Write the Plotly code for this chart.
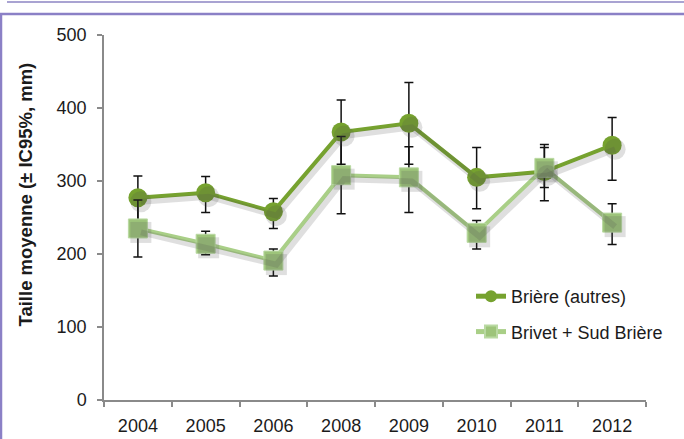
import plotly.graph_objects as go

years = ["2004", "2005", "2006", "2008", "2009", "2010", "2011", "2012"]

briere = [277, 284, 258, 367, 379, 305, 313, 349]
briere_plus = [30, 22, 18, 44, 56, 41, 33, 38]
briere_minus = [30, 27, 23, 44, 56, 43, 40, 48]

brivet = [235, 214, 191, 308, 305, 229, 318, 243]
brivet_plus = [39, 17, 16, 53, 42, 17, 32, 26]
brivet_minus = [39, 15, 21, 53, 48, 22, 27, 30]

y_ticks = [0, 100, 200, 300, 400, 500]

DARK = "#76A22F"
LIGHT = "#A9CF87"
LIGHT_MK = "#9DC47A"
FONT = "Liberation Sans"
TXT = "#1b1b1b"
AX = "#8a8a8a"

W, H = 684, 439
ML, MR, MT, MB = 104, 38, 35, 39
PW = W - ML - MR
PH = H - MT - MB

fig = go.Figure()

# soft shadows (same data, on a slightly offset hidden axis pair)
for vals, sym in [(briere, "circle"), (brivet, "square")]:
    fig.add_trace(go.Scatter(
        x=years, y=vals, mode="lines+markers", xaxis="x2", yaxis="y2",
        line=dict(color="rgba(80,80,80,0.18)", width=6),
        marker=dict(symbol=sym, size=21, color="rgba(80,80,80,0.18)"),
        showlegend=False, hoverinfo="skip"))

fig.add_trace(go.Scatter(
    x=years, y=briere, name="Brière (autres)", mode="lines+markers",
    legendgroup="a",
    line=dict(color=DARK, width=4),
    marker=dict(symbol="circle", size=19, color=DARK),
    error_y=dict(type="data", array=briere_plus, arrayminus=briere_minus,
                 color="#111111", thickness=1.5, width=4.5)))

fig.add_trace(go.Scatter(
    x=years, y=brivet, name="Brivet + Sud Brière", mode="lines+markers",
    legendgroup="b",
    line=dict(color=LIGHT, width=4),
    marker=dict(symbol="square", size=19, color=LIGHT_MK,
                line=dict(color="#B9D9A2", width=1)),
    error_y=dict(type="data", array=brivet_plus, arrayminus=brivet_minus,
                 color="#111111", thickness=1.5, width=4.5)))

dx = 3 / (PW / 8)
dy = 4 * 500 / PH

fig.update_layout(
    width=W, height=H, autosize=False,
    margin=dict(l=ML, r=MR, t=MT, b=MB, autoexpand=False),
    paper_bgcolor="white", plot_bgcolor="white",
    font=dict(family=FONT, size=18, color=TXT),
    showlegend=True,
    legend=dict(x=(471 - ML) / PW, y=(400 - 278) / PH, xanchor="left", yanchor="top",
                bgcolor="rgba(0,0,0,0)", font=dict(family=FONT, size=18, color=TXT),
                itemsizing="constant", tracegroupgap=9, traceorder="grouped"),
    xaxis=dict(type="category", categoryorder="array", categoryarray=years,
               range=[-0.5, 7.5], showline=True, linecolor=AX, linewidth=1.5,
               ticks="outside", tickson="boundaries", ticklen=5, tickcolor=AX,
               tickwidth=1.5, showgrid=False, zeroline=False, automargin=False,
               tickfont=dict(family=FONT, size=18, color=TXT), ticklabelstandoff=9),
    yaxis=dict(range=[0, 500], tickvals=y_ticks, showline=True, linecolor=AX,
               linewidth=1.5, ticks="outside", ticklen=5, tickcolor=AX, tickwidth=1.5,
               showgrid=False, zeroline=False, automargin=False,
               tickfont=dict(family=FONT, size=18, color=TXT), ticklabelstandoff=7),
    xaxis2=dict(type="category", categoryorder="array", categoryarray=years,
                range=[-0.5 - dx, 7.5 - dx], overlaying="x", visible=False),
    yaxis2=dict(range=[0 + dy, 500 + dy], overlaying="y", visible=False),
    annotations=[dict(text="<b>Taille moyenne (± IC95%, mm)</b>", textangle=-90,
                      xref="paper", yref="paper", x=(25 - ML) / PW, y=(400 - 194.5) / PH,
                      xanchor="center", yanchor="middle", showarrow=False,
                      font=dict(family=FONT, size=18.5, color=TXT))],
    shapes=[
        dict(type="line", xref="paper", yref="paper",
             x0=(7 - ML) / PW, x1=(W - ML) / PW, y0=(400 - 2) / PH, y1=(400 - 2) / PH,
             line=dict(color="#A9A3D2", width=2)),
        dict(type="line", xref="paper", yref="paper",
             x0=(0 - ML) / PW, x1=(W - ML) / PW, y0=(400 - 14) / PH, y1=(400 - 14) / PH,
             line=dict(color="#8B80C6", width=2.5)),
        dict(type="line", xref="paper", yref="paper",
             x0=(1 - ML) / PW, x1=(1 - ML) / PW, y0=(400 - 14) / PH, y1=(400 - H) / PH,
             line=dict(color="#8B80C6", width=2.5)),
    ],
)

fig.write_html("out.html", config={"displayModeBar": False},
               post_script="document.body.style.margin='0';")
